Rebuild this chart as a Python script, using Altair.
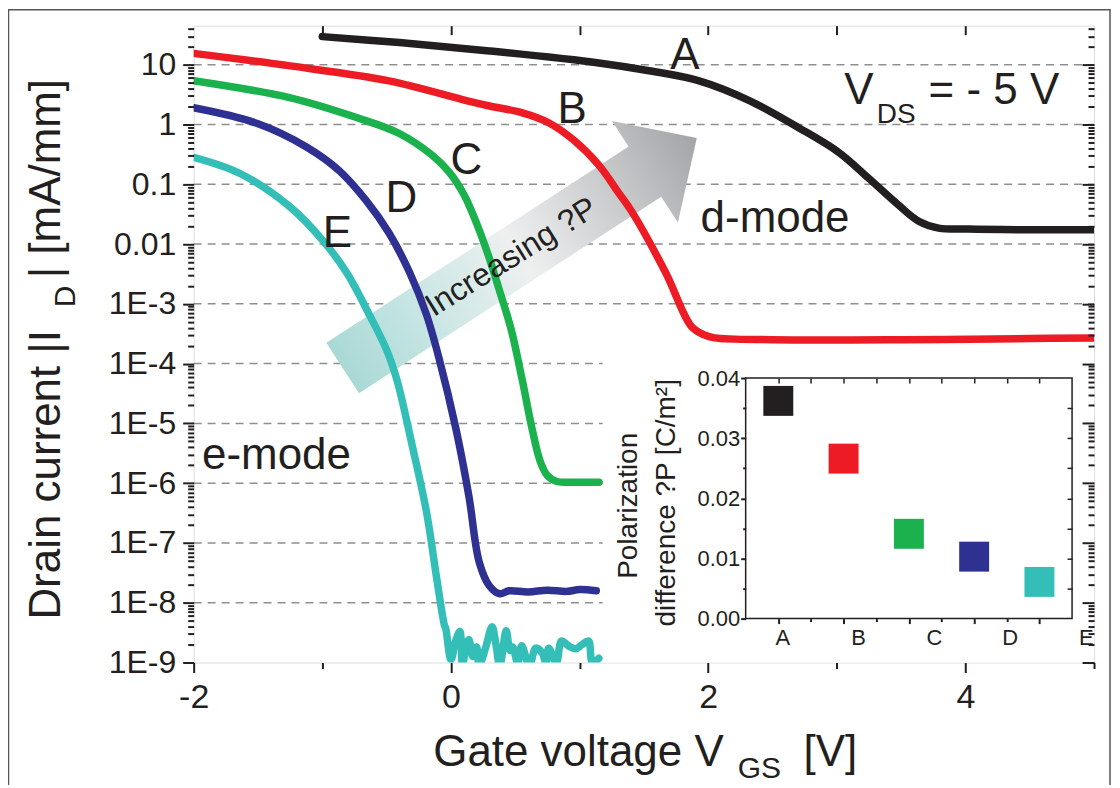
import altair as alt
import pandas as pd

FONT = "Liberation Sans"
INK = "#231f20"

# ---------------- main transfer curves: gate voltage (V) vs log10 |I_D| (mA/mm) ----------------
A_V = [-1.0, -0.40, 0.30, 1.15, 1.54, 1.93, 2.32, 2.70, 3.016, 3.248, 3.481, 3.637, 3.792, 4.025, 4.50, 5.00]
A_LOG = [1.47, 1.37, 1.23, 1.03, 0.90, 0.73, 0.40, -0.05, -0.467, -0.90, -1.35, -1.617, -1.733, -1.75, -1.76, -1.76]

B_V = [-2.0, -1.25, -0.48, 0.12, 0.30, 0.55, 0.76, 0.96, 1.15, 1.30, 1.41, 1.67, 1.87, 1.97, 2.05, 2.50,
       3.50, 4.50, 5.00]
B_LOG = [1.19, 0.98, 0.73, 0.40, 0.31, 0.20, 0.03, -0.27, -0.68, -1.13, -1.47, -2.48, -3.38, -3.52, -3.57,
         -3.60, -3.60, -3.58, -3.57]

C_V = [-2.0, -1.255, -0.734, -0.401, -0.144, -0.012, 0.104, 0.205, 0.298, 0.376, 0.469, 0.554, 0.632,
       0.694, 0.748, 0.818, 0.997, 1.152]
C_LOG = [0.733, 0.45, 0.117, -0.15, -0.517, -0.80, -1.183, -1.683, -2.233, -2.767, -3.433, -4.267, -5.10,
         -5.633, -5.867, -5.967, -5.983, -5.983]

D_V = [-2.0, -1.51, -1.12, -0.87, -0.66, -0.48, -0.32, -0.19, -0.09, 0.04, 0.14, 0.22, 0.30,
       0.38, 0.45, 0.60, 0.75, 0.90, 1.00, 1.13]
D_LOG = [0.28, 0.02, -0.38, -0.77, -1.27, -1.82, -2.48, -3.18, -3.93, -5.10, -6.22, -7.32, -7.72,
         -7.85, -7.80, -7.82, -7.79, -7.81, -7.78, -7.80]

E_V = [-2.0, -1.64, -1.25, -1.00, -0.81, -0.63, -0.50, -0.42, -0.30, -0.19, -0.11, -0.05,
       -0.04, 0.00, 0.04, 0.07, 0.09, 0.12, 0.14, 0.17, 0.20, 0.22, 0.27, 0.32, 0.35, 0.38,
       0.43, 0.46, 0.48, 0.52, 0.55, 0.61, 0.66, 0.71, 0.74, 0.76, 0.82, 0.86, 0.92, 0.97,
       1.02, 1.07, 1.10, 1.15]
E_LOG = [-0.55, -0.82, -1.38, -1.93, -2.48, -3.20, -3.77, -4.27, -5.38, -6.48, -7.60, -8.38,
         -8.43, -8.95, -8.62, -8.48, -9.05, -8.70, -8.62, -8.90, -8.74, -9.05, -8.75, -8.40, -8.70, -9.05,
         -8.47, -8.80, -8.74, -9.02, -8.72, -9.05, -8.76, -8.84, -9.02, -8.76, -9.00, -8.64, -8.73, -8.77,
         -8.70, -8.64, -9.00, -8.93]

SERIES = ["A", "B", "C", "D", "E"]
COLORS = ["#231f20", "#ed1c24", "#1bb14c", "#2e3192", "#33bfb8"]
LINE_WIDTH = 7.5

# ---------------- inset: polarization difference per device ----------------
INSET_X = [1, 2, 3, 4, 5]
INSET_DP = [0.0362, 0.0266, 0.0141, 0.0103, 0.0061]
INSET_LABEL_X = [1.07, 2.23, 3.39, 4.55, 5.72]
INSET_LABEL_Y = -0.00315

# ---------------- axis tick definitions ----------------
DECADES = [-9, -8, -7, -6, -5, -4, -3, -2, -1, 0, 1]
MINOR_MULT = [2, 3, 4, 5, 6, 7, 8, 9]
Y_MAJOR = [10.0 ** k for k in DECADES]
Y_MINOR = [m * 10.0 ** k for k in DECADES for m in MINOR_MULT if m * 10.0 ** k < 45]
GRID_VALUES = [10.0 ** k for k in DECADES[1:]]
X_MAJOR = [-2, 0, 2, 4]
X_MINOR = [-1, 1, 3, 5]
X_TOP = [-1, 0, 1, 2, 3, 4]
INSET_Y_MAJOR = [0.0, 0.01, 0.02, 0.03, 0.04]
INSET_Y_MINOR = [0.005, 0.015, 0.025, 0.035]
INSET_X_MINOR = [1.5, 2.5, 3.5, 4.5]
INSET_TOP = [1, 1.5, 2, 2.5, 3, 3.5, 4, 4.5, 5]
INSET_RIGHT = [0.005, 0.01, 0.015, 0.02, 0.025, 0.03, 0.035]

# ---------------- annotations (data coordinates) ----------------
LBL_TEXT = ["A", "B", "C", "D", "E", "d-mode", "e-mode", "V"]
LBL_V = [1.82, 0.943, 0.12, -0.385, -0.882, 2.52, -1.356, 3.171]
LBL_I = [8.58, 1.08, 0.147, 0.0341, 0.00891, 0.0158, 1.71e-6, 2.24]
LBL_FS = [44, 44, 44, 44, 44, 44, 44, 44]
LEFT_TEXT = ["DS", "= - 5 V"]
LEFT_V = [3.311, 3.714]
LEFT_I = [1.08, 2.24]
LEFT_FS = [28, 44]
ARROW_V, ARROW_I = [0.535], [7.08e-3]
INC_V, INC_I = [0.469], [6.07e-3]
BLANK_V = [1.18, 5.0]
BLANK_I = [1e-9, 1.8e-4]

# ---------------- tables ----------------
rows = []
for name, vs, ls in [("A", A_V, A_LOG), ("B", B_V, B_LOG), ("C", C_V, C_LOG), ("D", D_V, D_LOG), ("E", E_V, E_LOG)]:
    for v, l in zip(vs, ls):
        rows.append({"series": name, "v": v, "i": 10.0 ** l})
curves_df = pd.DataFrame(rows)
grid_df = pd.DataFrame({"g": GRID_VALUES, "x0": -2, "x1": 5})
blank_df = pd.DataFrame({"v0": [BLANK_V[0]], "v1": [BLANK_V[1]], "i0": [BLANK_I[0]], "i1": [BLANK_I[1]]})
lbl_df = pd.DataFrame({"t": LBL_TEXT, "v": LBL_V, "i": LBL_I, "fs": LBL_FS})
left_df = pd.DataFrame({"t": LEFT_TEXT, "v": LEFT_V, "i": LEFT_I, "fs": LEFT_FS})
arrow_df = pd.DataFrame({"v": ARROW_V, "i": ARROW_I})
inc_df = pd.DataFrame({"v": INC_V, "i": INC_I, "t": ["Increasing ?P"]})
inset_df = pd.DataFrame({"series": SERIES, "x": INSET_X, "dp": INSET_DP})
inset_lbl_df = pd.DataFrame({"t": SERIES, "x": INSET_LABEL_X, "y": INSET_LABEL_Y})
frame_df = pd.DataFrame({"x0": [0.5], "x1": [5.5], "y0": [0.0], "y1": [0.04]})

XS = alt.Scale(domain=[-2, 5], nice=False, zero=False)
YS = alt.Scale(type="log", domain=[1e-9, 45], nice=False)
CS = alt.Scale(domain=SERIES, range=COLORS)
IXS = alt.Scale(domain=[0.5, 5.5], range=[553, 880], nice=False, zero=False)
IYS = alt.Scale(domain=[0, 0.04], range=[594, 353], nice=False, zero=False)


def ax(**kw):
    base = dict(domain=False, grid=False, title=None, tickColor=INK, tickWidth=2,
                labelFont=FONT, labelColor=INK, labelFlush=False, zindex=1)
    base.update(kw)
    return alt.Axis(**base)


# ---------------- main plot layers ----------------
grid = alt.Chart(grid_df).mark_rule(color="#8f8f8f", strokeWidth=1.5, strokeDash=[8, 6]).encode(
    x=alt.X("x0:Q", scale=XS, axis=ax(orient="bottom", values=X_MAJOR, tickSize=10,
                                      labelFontSize=34, labelPadding=8, labelExpr="'' + datum.value")),
    x2="x1:Q",
    y=alt.Y("g:Q", scale=YS, axis=ax(orient="left", values=Y_MAJOR, tickSize=11, labelFontSize=32,
                                     labelPadding=7,
                                     labelExpr="datum.value >= 0.01 ? '' + datum.value : '1E' + round(log(datum.value) / LN10)")),
)

blank = alt.Chart(blank_df).mark_rect(color="white").encode(
    x=alt.X("v0:Q", scale=XS, axis=ax(orient="bottom", values=X_MINOR, tickSize=6, labels=False)),
    x2="v1:Q",
    y=alt.Y("i0:Q", scale=YS, axis=ax(orient="left", values=Y_MINOR, tickSize=6, labels=False)),
    y2="i1:Q",
)

ARROW_PATH = "M -1 -0.142 L 0.707 -0.142 L 0.707 -0.287 L 1 0 L 0.707 0.287 L 0.707 0.142 L -1 0.142 Z"
arrow_fill = alt.LinearGradient(
    gradient="linear", x1=0, y1=0, x2=1, y2=0,
    stops=[alt.GradientStop(offset=0.0, color="#a9d9d5"),
           alt.GradientStop(offset=0.25, color="#cbe7e5"),
           alt.GradientStop(offset=0.5, color="#eef0f0"),
           alt.GradientStop(offset=0.8, color="#c3c5c7"),
           alt.GradientStop(offset=1.0, color="#a2a4a8")])
arrow = alt.Chart(arrow_df).mark_point(shape=ARROW_PATH, size=178929, angle=327, filled=True,
                                       fill=arrow_fill, opacity=1, strokeWidth=0).encode(
    x=alt.X("v:Q", scale=XS, axis=None),
    y=alt.Y("i:Q", scale=YS, axis=None),
)

inc_text = alt.Chart(inc_df).mark_text(font=FONT, fontSize=32, angle=328, color=INK,
                                       align="center", baseline="middle").encode(
    x=alt.X("v:Q", scale=XS, axis=None),
    y=alt.Y("i:Q", scale=YS, axis=None),
    text="t:N",
)

curves = alt.Chart(curves_df).mark_line(interpolate="catmull-rom", clip=True,
                                        strokeCap="round", strokeJoin="round").encode(
    x=alt.X("v:Q", scale=XS, axis=ax(orient="top", offset=-9, values=X_TOP, tickSize=9, labels=False)),
    y=alt.Y("i:Q", scale=YS, axis=ax(orient="right", offset=-12, values=Y_MAJOR, tickSize=12, labels=False)),
    color=alt.Color("series:N", scale=CS, legend=None),
    strokeWidth=alt.value(LINE_WIDTH),
    detail="series:N",
)

labels = alt.Chart(lbl_df).mark_text(font=FONT, color=INK, align="center", baseline="alphabetic").encode(
    x=alt.X("v:Q", scale=XS, axis=None),
    y=alt.Y("i:Q", scale=YS, axis=ax(orient="right", offset=-6, values=Y_MINOR, tickSize=6, labels=False)),
    text="t:N",
    size=alt.Size("fs:Q", scale=None, legend=None),
)

labels_left = alt.Chart(left_df).mark_text(font=FONT, color=INK, align="left", baseline="alphabetic").encode(
    x=alt.X("v:Q", scale=XS, axis=None),
    y=alt.Y("i:Q", scale=YS, axis=None),
    text="t:N",
    size=alt.Size("fs:Q", scale=None, legend=None),
)


# axis titles built from pieces (sub-scripts), positioned in plot pixels
def title_piece(text, x, y, fs, angle=0, align="left", baseline="alphabetic"):
    return alt.Chart(pd.DataFrame({"t": [text]})).mark_text(
        font=FONT, fontSize=fs, color=INK, angle=angle, align=align, baseline=baseline
    ).encode(x=alt.value(x), y=alt.value(y), text="t:N")


titles = [
    title_piece("Drain current |I", -147, 595, 44, angle=270, baseline="middle"),
    title_piece("D", -128, 282, 30, angle=270, baseline="middle"),
    title_piece("| [mA/mm]", -147, 253, 44, angle=270, baseline="middle"),
    title_piece("Gate voltage V", 240, 742, 44),
    title_piece("GS", 545, 754, 30),
    title_piece("[V]", 611, 742, 44),
    title_piece("Polarization", 436, 481, 28, angle=270, align="center", baseline="middle"),
    title_piece("difference  ?P [C/m\u00b2]", 474, 478, 28, angle=270, align="center", baseline="middle"),
]

outer_frame = alt.Chart(pd.DataFrame({"k": [0]})).mark_rect(
    fillOpacity=0, stroke="#555555", strokeWidth=1.5
).encode(x=alt.value(-185.5), x2=alt.value(918), y=alt.value(-16), y2=alt.value(800))

main = alt.layer(outer_frame, grid, blank, arrow, curves, inc_text, labels, labels_left, *titles).resolve_axis(
    x="independent", y="independent")

# ---------------- inset layers ----------------
iframe = alt.Chart(frame_df).mark_rect(fillOpacity=0, stroke=INK, strokeWidth=1.5).encode(
    x=alt.X("x0:Q", scale=IXS, axis=ax(orient="bottom", offset=-44, values=INSET_X, tickSize=5, labels=False)),
    x2="x1:Q",
    y=alt.Y("y0:Q", scale=IYS, axis=ax(orient="left", offset=-553, values=INSET_Y_MAJOR, tickSize=5,
                                       labelFontSize=22, labelPadding=1, format=".2f")),
    y2="y1:Q",
)

ipoints = alt.Chart(inset_df).mark_square(size=900, opacity=1, filled=True).encode(
    x=alt.X("x:Q", scale=IXS, axis=ax(orient="bottom", offset=-44, values=INSET_X_MINOR, tickSize=3, labels=False)),
    y=alt.Y("dp:Q", scale=IYS, axis=ax(orient="left", offset=-553, values=INSET_Y_MINOR, tickSize=3, labels=False)),
    color=alt.Color("series:N", scale=CS, legend=None),
)

ilabels = alt.Chart(inset_lbl_df).mark_text(font=FONT, fontSize=22, color=INK, align="center",
                                            baseline="middle").encode(
    x=alt.X("x:Q", scale=IXS, axis=ax(orient="top", offset=-358, values=INSET_TOP, tickSize=5, labels=False, tickWidth=1.5)),
    y=alt.Y("y:Q", scale=IYS, axis=ax(orient="right", offset=-27, values=INSET_RIGHT, tickSize=5, labels=False, tickWidth=1.5)),
    text="t:N",
)

inset = alt.layer(iframe, ipoints, ilabels).resolve_axis(x="independent", y="independent")

chart = alt.layer(main, inset).resolve_scale(x="independent", y="independent").properties(
    width=902, height=638,
    padding={"left": 186, "top": 17, "right": 18, "bottom": 122},
    autosize=alt.AutoSizeParams(type="none"),
).configure_view(stroke=INK, strokeWidth=2).configure(background="white")

chart.save("out.html", embed_options={"renderer": "svg", "actions": False})
